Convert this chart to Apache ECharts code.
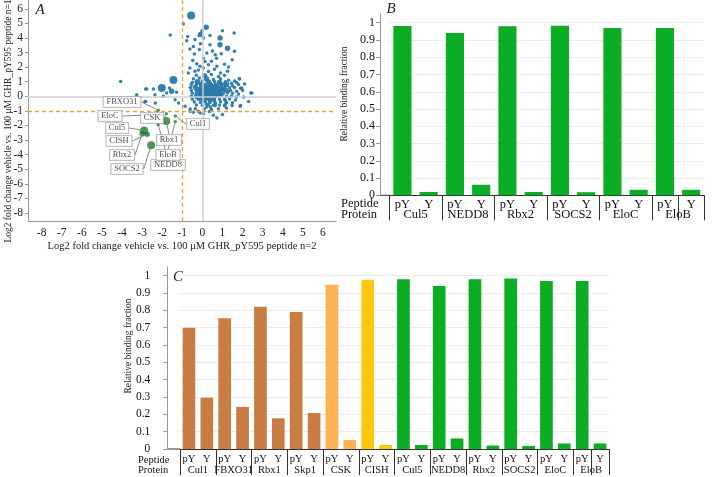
<!DOCTYPE html>
<html><head><meta charset="utf-8">
<script src="https://cdn.jsdelivr.net/npm/echarts@6/dist/echarts.min.js"></script>
<style>html,body{margin:0;padding:0;background:#fff}#c{width:713px;height:477px}</style>
</head><body><div id="c"></div>
<script>
// ---------- Panel A data ----------
const scatterTicks = [-8,-7,-6,-5,-4,-3,-2,-1,0,1,2,3,4,5,6];
// [log2 FC n=2, log2 FC n=1, relative abundance class]
const blueHits = [
[-0.56,5.54,3],[-0.95,4.95,1],[0.19,4.73,2],[-0.08,4.26,2],[-0.16,4.17,1],[-0.02,4.5,1],[0.38,4.17,1],[-0.73,4.1,1],[-1.6,4.2,1],[1.0,4.5,1],[1.58,4.33,1],[-0.78,3.8,1],[-0.37,3.89,1],[0.05,4.0,1],[0.88,4.0,2],[-0.62,3.24,1],[-0.45,3.42,1],[-0.15,3.2,1],[0.88,3.53,2],[0.38,3.53,1],[1.25,3.3,2],[1.6,3.08,1],[0.22,2.96,1],[0.64,2.85,1],[0.94,2.92,1],[1.48,2.5,1],[-0.48,2.46,1],[-0.28,2.23,1],[0.13,2.39,1],[-0.12,2.05,1],[-0.62,1.94,1],[-0.7,1.6,1],[-0.37,1.71,1],[0.05,1.94,1],[0.3,2.16,1],[0.72,2.05,1],[1.25,1.71,1],[1.85,1.2,1],[-1.44,1.12,3],[-2.02,0.57,3],[-2.44,0.5,1],[-2.77,0.5,1],[-1.64,0.57,1],[-1.53,0.34,2],[-1.78,0.22,1],[-1.28,0.27,1],[-2.36,0.11,1],[-1.94,0.0,1],[-1.36,-0.23,1],[-1.19,-0.46,1],[-2.86,-0.35,1],[-0.86,-0.69,1],[-0.61,-0.87,1],[-0.2,-1.03,1],[0.22,-0.74,1],[0.64,-0.64,1],[1.13,-0.57,1],[1.48,-0.64,1],[1.9,-0.64,1],[2.41,0.22,1],[-4.07,1.02,1],[-3.27,0.11,1],[-2.82,0.5,1],[-2.82,-0.35,1],[-2.34,-0.46,1],[1.96,0.57,1],[2.46,0.22,1],[1.88,-0.69,1],[2.3,-0.35,1],[1.84,1.2,1],[0.72,-1.49,1],[-0.11,-1.14,1],[-0.61,-1.03,1],[0.4,-0.74,1],
[-0.3,1.45,1],[0.1,1.4,2],[0.45,1.5,1],[0.8,1.35,1],[1.1,1.45,1],
[-0.45,1.2,1],[-0.15,1.25,1],[0.2,1.2,2],[0.55,1.15,1],[0.9,1.2,1],[1.3,1.1,1],[1.6,1.05,1],
[-0.5,0.95,1],[-0.25,1.0,2],[0.0,1.05,1],[0.3,0.98,2],[0.6,1.02,1],[0.85,0.95,2],[1.15,1.0,1],[1.45,0.9,1],[1.7,0.95,1],
[-0.55,0.8,1],[-0.3,0.78,1],[-0.05,0.82,2],[0.15,0.8,1],[0.4,0.75,2],[0.65,0.82,1],[0.95,0.78,1],[1.2,0.8,2],[1.5,0.72,1],[1.8,0.8,1],[2.1,0.85,1],
[-0.6,0.6,1],[-0.35,0.62,2],[-0.12,0.58,1],[0.08,0.62,2],[0.3,0.6,1],[0.5,0.58,2],[0.72,0.62,1],[0.9,0.55,2],[1.1,0.6,1],[1.35,0.58,1],[1.6,0.6,1],[1.9,0.55,1],
[-0.55,0.4,1],[-0.3,0.42,1],[-0.1,0.38,2],[0.1,0.42,1],[0.25,0.4,2],[0.42,0.38,1],[0.6,0.42,2],[0.78,0.4,1],[0.95,0.38,1],[1.15,0.42,2],[1.4,0.4,1],[1.7,0.35,1],[2.0,0.4,1],
[-0.5,0.2,1],[-0.25,0.22,2],[-0.05,0.18,1],[0.12,0.22,2],[0.3,0.2,1],[0.48,0.18,2],[0.65,0.22,1],[0.85,0.2,2],[1.05,0.18,1],[1.25,0.22,1],[1.5,0.2,1],[1.8,0.15,1],
[-0.55,0.0,1],[-0.35,0.02,1],[-0.1,-0.02,2],[0.05,0.03,1],[0.22,0.0,2],[0.4,0.02,1],[0.58,-0.02,2],[0.75,0.0,1],[0.95,0.03,1],[1.2,-0.02,1],[1.45,0.0,1],[1.7,-0.05,1],[2.05,-0.05,1],
[-0.5,-0.2,1],[-0.2,-0.22,1],[0.0,-0.18,2],[0.2,-0.2,1],[0.4,-0.22,2],[0.6,-0.18,1],[0.85,-0.2,1],[1.1,-0.22,1],[1.35,-0.18,1],[1.65,-0.25,1],
[-0.4,-0.4,1],[-0.1,-0.42,1],[0.15,-0.38,1],[0.38,-0.42,1],[0.62,-0.4,1],[0.9,-0.38,1],[1.2,-0.42,1],[1.5,-0.45,1],
[-0.3,-0.6,1],[0.0,-0.62,1],[0.3,-0.58,1],[0.55,-0.62,1],[0.85,-0.6,1],[1.1,-0.65,1],
[-0.35,-0.85,1],[0.1,-0.88,1],[0.45,-0.9,1],[0.8,-0.85,1],[1.2,-0.8,1],
[-0.45,-1.1,1],[0.05,-1.2,1],[0.35,-1.05,1],[1.0,-1.25,1],[0.55,-1.3,1],
[0.2,0.3,2],[0.35,0.5,2],[0.5,0.3,2],[0.65,0.5,2],[0.15,0.1,1],[0.45,0.1,2],[0.7,0.1,1],[0.0,0.3,2],[0.3,-0.1,1],[0.55,0.65,2],[0.25,0.7,1],[0.8,0.3,2],[1.0,0.5,1],[0.1,0.55,1],[-0.2,0.5,1],[0.6,-0.3,1],[0.35,-0.3,1],[0.9,0.1,1],[1.3,0.35,1],[0.05,-0.35,1],[-0.15,0.05,1],[0.75,0.7,1],[0.4,0.88,1],[1.05,0.85,1],[0.2,-0.55,1],[0.65,-0.5,1],[-0.3,-0.1,1],[1.15,-0.3,1],
[0.3,1.7,1],[0.6,1.85,1],[-0.2,1.8,1],[0.9,1.6,1],[1.1,2.2,1],[0.45,2.4,1],[0.05,2.6,1],[-0.4,2.9,1],[0.7,2.6,1],[1.3,2.0,1],[-0.1,3.6,1],[0.5,3.1,1]
];
const greenNames = ['FBXO31','EloC','CSK','Cul5','CISH','Rbx2','SOCS2','NEDD8','EloB','Rbx1','Cul1'];
const greenX = [-2.2,-2.05,-1.8,-2.9,-2.75,-3.0,-2.55,-2.2,-1.35,-1.8,-1.35];
const greenY = [-0.95,-1.25,-1.2,-2.35,-2.6,-2.55,-3.35,-1.95,-1.75,-1.7,-1.35];
const greenW = [1,1,1,3,2,2,3,1,1,3,1];

// ---------- Panels B / C data ----------
const peptides = ['pY','Y'];
const barTicks = [0,0.1,0.2,0.3,0.4,0.5,0.6,0.7,0.8,0.9,1];
const proteinsB = ['Cul5','NEDD8','Rbx2','SOCS2','EloC','EloB'];
const pYB = [0.981,0.94,0.98,0.983,0.969,0.969];
const YB  = [0.019,0.061,0.019,0.018,0.032,0.032];
const proteinsC = ['Cul1','FBXO31','Rbx1','Skp1','CSK','CISH','Cul5','NEDD8','Rbx2','SOCS2','EloC','EloB'];
const pYC = [0.70,0.755,0.82,0.79,0.947,0.976,0.98,0.94,0.98,0.983,0.969,0.969];
const YC  = [0.296,0.243,0.177,0.208,0.052,0.023,0.023,0.061,0.02,0.018,0.032,0.032];

// ---------- styles ----------
const SERIF = '"Liberation Serif","Times New Roman",serif';
const GREEN = '#0aad24';
const colorC = ['#c97c43','#c97c43','#c97c43','#c97c43','#fdb253','#fec810',GREEN,GREEN,GREEN,GREEN,GREEN,GREEN];
// label box centres (pixels) for panel A annotations
const labelBoxes = [[122,102],[110,116],[152,118],[117,128],[119,141],[122,155],[127,169],[168,165],[168,155],[169,140],[198,124]];

const catsB = proteinsB.flatMap(() => peptides);
const valsB = proteinsB.flatMap((p, i) => [pYB[i], YB[i]]);
const catsC = proteinsC.flatMap(() => peptides);
const valsC = proteinsC.flatMap((p, i) => [
  {value: pYC[i], itemStyle: {color: colorC[i]}},
  {value: YC[i], itemStyle: {color: colorC[i]}}
]);
const greenData = greenNames.map((n, i) => ({name: n, value: [greenX[i], greenY[i], greenW[i]]}));
const sizeOf = w => w === 3 ? 8 : (w === 2 ? 5.5 : 3.5);

const chart = echarts.init(document.getElementById('c'), null, {renderer: 'canvas'});

function catAxisPY(grid, fs, margin, tickLen) {
  return {type: 'category', gridIndex: grid, data: grid === 1 ? catsB : catsC, position: 'bottom',
    axisLine: {lineStyle: {color: '#333', width: 1}},
    axisTick: {show: true, interval: 1, length: tickLen, lineStyle: {color: '#333'}},
    axisLabel: {interval: 0, margin: margin, fontSize: fs, fontFamily: SERIF, color: '#111'},
    splitLine: {show: false}};
}
function catAxisProt(grid, data, fs, offset, margin) {
  return {type: 'category', gridIndex: grid, data: data, position: 'bottom', offset: offset,
    axisLine: {show: false}, axisTick: {show: false},
    axisLabel: {interval: 0, margin: margin, fontSize: fs, fontFamily: SERIF, color: '#111'},
    splitLine: {show: false}};
}
function barY(grid, offset, fs, margin) {
  return {type: 'value', gridIndex: grid, min: 0, max: 1.05, offset: offset,
    axisLine: {show: true, lineStyle: {color: '#999'}},
    axisTick: {show: true, length: 4, customValues: barTicks, lineStyle: {color: '#999'}},
    axisLabel: {customValues: barTicks, margin: margin, fontSize: fs, fontFamily: SERIF, color: '#111'},
    splitLine: {show: true, lineStyle: {color: '#ebebeb', width: 1}}};
}

const option = {
  animation: false,
  backgroundColor: '#fff',
  grid: [
    {left: 28, top: 0, width: 308, height: 221},
    {left: 389.3, top: 14.1, width: 315, height: 181.2},
    {left: 180, top: 267, width: 429, height: 182}
  ],
  xAxis: [
    {type: 'value', gridIndex: 0, min: -8.68, max: 6.65,
      axisLine: {show: true, onZero: false, lineStyle: {color: '#999'}},
      axisTick: {show: false},
      axisLabel: {customValues: scatterTicks, margin: 6, fontSize: 11.5, fontFamily: SERIF, color: '#222'},
      splitLine: {show: false},
      name: 'Log2 fold change vehicle vs. 100 μM GHR_pY595 peptide n=2', nameLocation: 'middle', nameGap: 20,
      nameTextStyle: {fontSize: 10.5, fontFamily: SERIF, color: '#222'}},
    catAxisPY(1, 12.5, 3, 25),
    catAxisProt(1, proteinsB, 12.5, 10, 3),
    catAxisPY(2, 10.5, 5, 26),
    catAxisProt(2, proteinsC, 10.5, 11, 5)
  ],
  yAxis: [
    {type: 'value', gridIndex: 0, min: -8.55, max: 6.6,
      axisLine: {show: true, onZero: false, lineStyle: {color: '#999'}},
      axisTick: {show: true, length: 3, customValues: scatterTicks, lineStyle: {color: '#999'}},
      axisLabel: {customValues: scatterTicks, margin: 5, fontSize: 11.5, fontFamily: SERIF, color: '#222'},
      splitLine: {show: false}},
    barY(1, 9.3, 12, 5),
    barY(2, 12.7, 11.5, 17)
  ],
  series: [
    {type: 'scatter', xAxisIndex: 0, yAxisIndex: 0, data: blueHits,
      symbolSize: v => sizeOf(v[2]),
      itemStyle: {color: '#2a79aa', opacity: 0.95},
      markLine: {silent: true, symbol: 'none', label: {show: false}, animation: false,
        data: [
          {xAxis: 0, lineStyle: {color: '#cfcfcf', width: 1.5, type: 'solid'}},
          {yAxis: 0, lineStyle: {color: '#cfcfcf', width: 1.5, type: 'solid'}},
          {xAxis: -1, lineStyle: {color: '#f3a12e', width: 1.3, type: [4, 3]}},
          {yAxis: -1, lineStyle: {color: '#f3a12e', width: 1.3, type: [4, 3]}}
        ]}},
    {type: 'scatter', xAxisIndex: 0, yAxisIndex: 0, data: greenData, z: 5,
      symbolSize: (v) => sizeOf(v[2]),
      itemStyle: {color: '#1f7a34'},
      label: {show: true, formatter: '{b}', fontSize: 8.5, fontFamily: SERIF, color: '#222',
        backgroundColor: '#fff', borderColor: '#999', borderWidth: 0.8, padding: [1, 3, 0, 3]},
      labelLine: {show: true, lineStyle: {color: '#555', width: 0.7}},
      labelLayout: function (p) {
        const b = labelBoxes[p.dataIndex];
        return {x: b[0], y: b[1], align: 'center', verticalAlign: 'middle'};
      }},
    {type: 'bar', xAxisIndex: 1, yAxisIndex: 1, data: valsB, barCategoryGap: '31%',
      itemStyle: {color: GREEN}},
    {type: 'bar', xAxisIndex: 3, yAxisIndex: 2, data: valsC, barCategoryGap: '29%'}
  ],
  graphic: [
    {type: 'text', x: 8, y: 121, rotation: Math.PI / 2,
      style: {text: 'Log2 fold change vehicle vs. 100 μM GHR_pY595 peptide n=1', fontSize: 9.5, fontFamily: SERIF,
        fill: '#222', textAlign: 'center', textVerticalAlign: 'middle'}},
    {type: 'text', x: 40, y: 10, style: {text: 'A', fontSize: 15, fontStyle: 'italic', fontFamily: SERIF, fill: '#222', textAlign: 'center', textVerticalAlign: 'middle'}},
    {type: 'text', x: 391, y: 9, style: {text: 'B', fontSize: 15, fontStyle: 'italic', fontFamily: SERIF, fill: '#222', textAlign: 'center', textVerticalAlign: 'middle'}},
    {type: 'text', x: 178, y: 277, style: {text: 'C', fontSize: 15, fontStyle: 'italic', fontFamily: SERIF, fill: '#222', textAlign: 'center', textVerticalAlign: 'middle'}},
    {type: 'text', x: 344, y: 94, rotation: Math.PI / 2,
      style: {text: 'Relative binding fraction', fontSize: 9.5, fontFamily: SERIF, fill: '#222', textAlign: 'center', textVerticalAlign: 'middle'}},
    {type: 'text', x: 128, y: 346, rotation: Math.PI / 2,
      style: {text: 'Relative binding fraction', fontSize: 9.5, fontFamily: SERIF, fill: '#222', textAlign: 'center', textVerticalAlign: 'middle'}},
    {type: 'text', x: 341, y: 204, style: {text: 'Peptide', fontSize: 12.5, fontFamily: SERIF, fill: '#111', textAlign: 'left', textVerticalAlign: 'middle'}},
    {type: 'text', x: 341, y: 214.5, style: {text: 'Protein', fontSize: 12.5, fontFamily: SERIF, fill: '#111', textAlign: 'left', textVerticalAlign: 'middle'}},
    {type: 'text', x: 138, y: 460, style: {text: 'Peptide', fontSize: 10.5, fontFamily: SERIF, fill: '#111', textAlign: 'left', textVerticalAlign: 'middle'}},
    {type: 'text', x: 138, y: 470.5, style: {text: 'Protein', fontSize: 10.5, fontFamily: SERIF, fill: '#111', textAlign: 'left', textVerticalAlign: 'middle'}},
    {type: 'line', shape: {x1: 380, y1: 195.3, x2: 389.3, y2: 195.3}, style: {stroke: '#333', lineWidth: 1}},
    {type: 'line', shape: {x1: 167.3, y1: 449, x2: 180, y2: 449}, style: {stroke: '#333', lineWidth: 1}}
  ]
};
chart.setOption(option);
</script>
</body></html>
